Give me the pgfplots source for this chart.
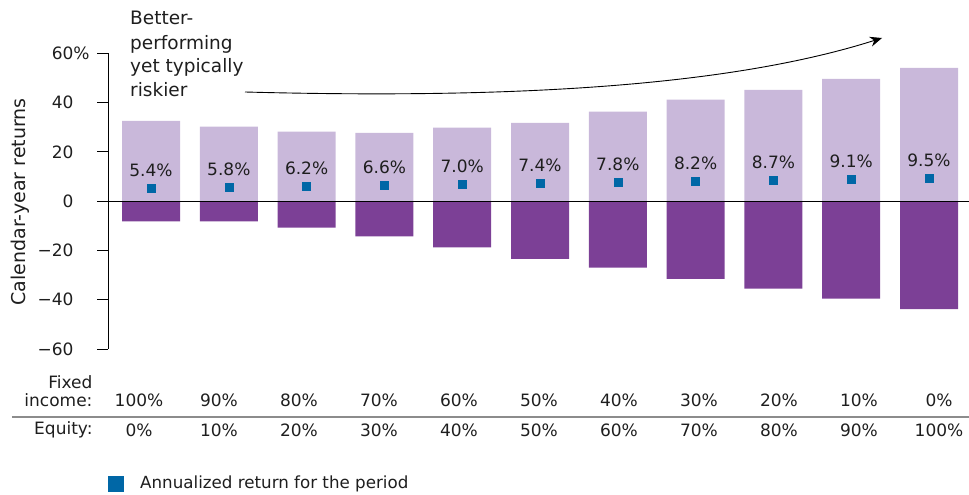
\documentclass[border=0pt]{standalone}
\usepackage{fontspec}
\setmainfont{DejaVu Sans}
\usepackage{pgfplots}
\pgfplotsset{compat=1.18}
\usetikzlibrary{arrows.meta}
\definecolor{lightp}{RGB}{201,184,218}
\definecolor{darkp}{RGB}{124,64,150}
\definecolor{mblue}{RGB}{0,103,166}
\definecolor{txt}{RGB}{30,30,30}
\newcommand{\fs}{\fontsize{17}{20}\selectfont}
\newcommand{\fa}{\fontsize{18.5}{22}\selectfont}
\begin{document}
\begin{tikzpicture}[x=1pt,y=1pt]
\useasboundingbox (-108,-146) rectangle (861,349);
\begin{axis}[
  at={(0,0)}, anchor=south west,
  scale only axis, width=861pt, height=295.7pt,
  xmin=-0.553, xmax=10.514, ymin=-60, ymax=60,
  axis x line=none, axis y line*=left,
  axis line style={line width=0.8pt, -},
  ytick={-60,-40,-20,0,20,40,60},
  yticklabels={−60,−40,−20,0,20,40,60\rlap{\%}},
  tick align=outside, major tick length=11pt,
  tick style={line width=0.8pt, black},
  yticklabel style={font=\fs, text=txt, xshift=-20pt},
  clip=false,
  /pgf/number format/assume math mode=true,
]
\addplot[ybar, bar width=58pt, bar shift=0pt, fill=lightp, draw=none]
  coordinates {(0,32.6) (1,30.2) (2,28.2) (3,27.7) (4,29.8) (5,31.8) (6,36.3) (7,41.2) (8,45.2) (9,49.6) (10,54.1)};
\addplot[ybar, bar width=58pt, bar shift=0pt, fill=darkp, draw=none]
  coordinates {(0,-8.2) (1,-8.2) (2,-10.7) (3,-14.3) (4,-18.8) (5,-23.4) (6,-27.0) (7,-31.5) (8,-35.5) (9,-39.6) (10,-43.8)};
\draw[black, line width=0.8pt] (axis cs:-0.553,0) -- (axis cs:10.514,0);
\addplot[only marks, mark=square*, mark size=4pt, color=mblue, mark options={draw=none, fill=mblue},
  point meta=y, nodes near coords={\pgfmathprintnumber[fixed, fixed zerofill, precision=1]{\pgfplotspointmeta}\%},
  nodes near coords style={anchor=center, yshift=17.5pt, font=\fs, text=txt}]
  coordinates {(0,5.4) (1,5.8) (2,6.2) (3,6.6) (4,7.0) (5,7.4) (6,7.8) (7,8.2) (8,8.7) (9,9.1) (10,9.5)};
\end{axis}
% y label
\node[rotate=90, font=\fontsize{19}{22}\selectfont, text=txt] at (-88,147) {Calendar-year returns};
% annotation
\node[anchor=base west, font=\fa, text=txt, inner sep=0pt] at (22,324) {Better-};
\node[anchor=base west, font=\fa, text=txt, inner sep=0pt] at (22,299) {performing};
\node[anchor=base west, font=\fa, text=txt, inner sep=0pt] at (22,276) {yet typically};
\node[anchor=base west, font=\fa, text=txt, inner sep=0pt] at (22,252) {riskier};
\draw[line width=0.9pt, -{Stealth[length=12pt,width=10pt]}] (137,257) .. controls (400,250) and (620,262) .. (774,311);
% category rows
\node[anchor=east, font=\fs, text=txt] at (-12,-33) {Fixed};
\node[anchor=east, font=\fs, text=txt] at (-12,-51) {income:};
\node[anchor=east, font=\fs, text=txt] at (-12,-81) {Equity:};
\foreach \i/\a/\b in {0/100/0,1/90/10,2/80/20,3/70/30,4/60/40,5/50/50,6/40/60,7/30/70,8/20/80,9/10/90,10/0/100} {
  \node[font=\fs, text=txt] at ({31+80*\i},-51) {\a\%};
  \node[font=\fs, text=txt] at ({31+80*\i},-81) {\b\%};
}
\draw[color=gray!90, line width=1.3pt] (-96,-68) -- (861,-68);
% legend
\fill[mblue] (0,-127) rectangle (16,-143);
\node[anchor=west, font=\fontsize{16.7}{20}\selectfont, text=txt, inner sep=0pt] at (32,-135) {Annualized return for the period};
\end{tikzpicture}
\end{document}
